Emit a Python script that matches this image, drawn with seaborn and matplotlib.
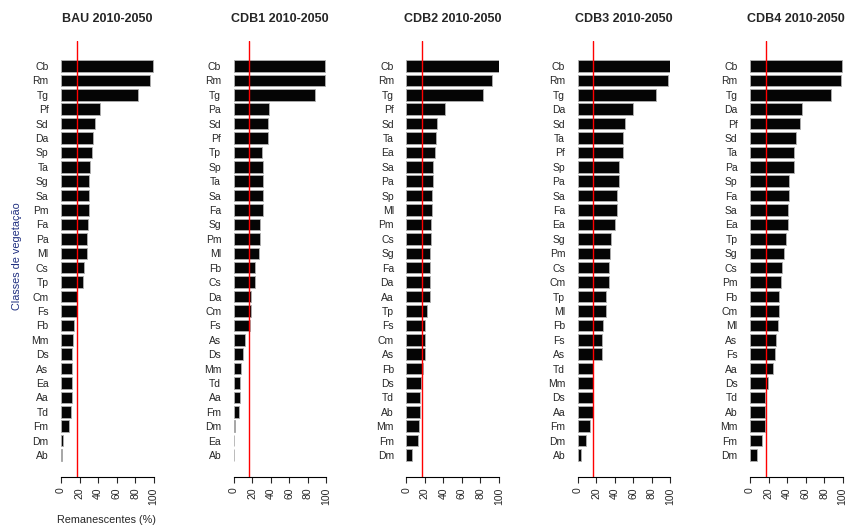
import pandas as pd
import matplotlib
matplotlib.use("Agg")
import matplotlib.pyplot as plt
import seaborn as sns

# dados (% remanescente por classe de vegetacao)
titles = ["BAU 2010-2050", "CDB1 2010-2050", "CDB2 2010-2050", "CDB3 2010-2050", "CDB4 2010-2050"]

bau_classes = ["Cb", "Rm", "Tg", "Pf", "Sd", "Da", "Sp", "Ta", "Sg", "Sa", "Pm", "Fa", "Pa", "Ml",
               "Cs", "Tp", "Cm", "Fs", "Fb", "Mm", "Ds", "As", "Ea", "Aa", "Td", "Fm", "Dm", "Ab"]
bau_values = [99.6, 96.4, 83.5, 42.0, 36.7, 34.5, 33.5, 31.3, 30.2, 30.2, 30.2, 29.1, 28.0, 28.0,
              24.8, 23.7, 17.3, 17.3, 14.0, 13.0, 11.9, 11.9, 11.9, 11.9, 10.8, 8.6, 2.2, 0.7]

cdb1_classes = ["Cb", "Rm", "Tg", "Pa", "Sd", "Pf", "Tp", "Sp", "Ta", "Sa", "Fa", "Sg", "Pm", "Ml",
                "Fb", "Cs", "Da", "Cm", "Fs", "As", "Ds", "Mm", "Td", "Aa", "Fm", "Dm", "Ea", "Ab"]
cdb1_values = [98.9, 98.2, 87.4, 37.8, 36.7, 36.7, 30.9, 31.3, 31.3, 31.3, 31.3, 28.0, 28.0, 27.0,
               23.4, 23.4, 19.0, 19.0, 17.6, 11.9, 10.4, 8.3, 7.2, 7.2, 5.4, 1.8, 0.7, 0.4]

cdb2_classes = ["Cb", "Rm", "Tg", "Pf", "Sd", "Ta", "Ea", "Sa", "Pa", "Sp", "Ml", "Pm", "Cs", "Sg",
                "Fa", "Da", "Aa", "Tp", "Fs", "Cm", "As", "Fb", "Ds", "Td", "Ab", "Mm", "Fm", "Dm"]
cdb2_values = [99.6, 92.0, 82.3, 41.9, 33.2, 32.5, 31.0, 28.9, 28.9, 27.8, 27.8, 26.7, 26.7, 25.6,
               25.6, 25.6, 25.6, 22.4, 20.2, 20.2, 20.2, 17.7, 16.2, 15.2, 15.2, 13.7, 12.6, 6.1]

cdb3_classes = ["Cb", "Rm", "Tg", "Da", "Sd", "Ta", "Pf", "Sp", "Pa", "Sa", "Fa", "Ea", "Sg", "Pm",
                "Cs", "Cm", "Tp", "Ml", "Fb", "Fs", "As", "Td", "Mm", "Ds", "Aa", "Fm", "Dm", "Ab"]
cdb3_values = [99.6, 97.5, 84.5, 59.6, 50.9, 48.7, 48.7, 44.4, 44.4, 42.2, 42.2, 40.0, 35.7, 34.7,
               33.6, 33.6, 30.3, 30.3, 27.0, 26.0, 26.0, 16.2, 16.2, 16.2, 16.2, 13.0, 8.7, 3.2]

cdb4_classes = ["Cb", "Rm", "Tg", "Da", "Pf", "Sd", "Ta", "Pa", "Sp", "Fa", "Sa", "Ea", "Tp", "Sg",
                "Cs", "Pm", "Fb", "Cm", "Ml", "As", "Fs", "Aa", "Ds", "Td", "Ab", "Mm", "Fm", "Dm"]
cdb4_values = [99.6, 98.2, 87.4, 56.0, 53.8, 49.5, 47.3, 47.3, 41.9, 41.9, 40.8, 40.8, 38.6, 36.5,
               34.3, 33.2, 31.0, 31.0, 30.0, 27.8, 26.7, 24.5, 19.1, 16.6, 16.6, 16.6, 12.6, 7.2]

meta = 17  # linha vermelha (meta de 17%)
x_ticks = [0, 20, 40, 60, 80, 100]

scenarios = [
    (bau_classes, bau_values),
    (cdb1_classes, cdb1_values),
    (cdb2_classes, cdb2_values),
    (cdb3_classes, cdb3_values),
    (cdb4_classes, cdb4_values),
]

sns.set_style("white")
plt.rcParams["font.family"] = ["Liberation Sans", "DejaVu Sans"]

W, H = 849, 528
fig = plt.figure(figsize=(W / 100, H / 100), dpi=100)

# posicoes (pixels) do zero de cada painel
x0s = [61, 233.7, 406.3, 577.7, 750]
panel_w = 92.7
top_px, bottom_px = 41, 477

for k, (classes, values) in enumerate(scenarios):
    ax = fig.add_axes([x0s[k] / W, 1 - bottom_px / H, panel_w / W, (bottom_px - top_px) / H])
    df = pd.DataFrame({"classe": classes, "valor": values})
    sns.barplot(data=df, x="valor", y="classe", orient="h", color="#050505",
                edgecolor="#b0b0b0", linewidth=0.6, width=0.8, saturation=1, ax=ax)
    ax.axvline(meta, color="red", lw=1)
    ax.set_xlim(0, 100)
    ax.set_ylim(28.527, -1.735)
    for s in ["top", "right", "left"]:
        ax.spines[s].set_visible(False)
    ax.spines["bottom"].set_linewidth(0.8)
    ax.spines["bottom"].set_color("black")
    ax.set_xticks(x_ticks)
    ax.set_xticklabels([str(t) for t in x_ticks], rotation=90, fontsize=7.5)
    ax.tick_params(axis="x", direction="out", length=4.3, width=0.8, pad=3, bottom=True)
    ax.tick_params(axis="y", length=0, pad=9, labelsize=7.5)
    ax.set_xlabel("")
    ax.set_ylabel("")
    ax.set_title(titles[k], fontsize=9, fontweight="bold", pad=13.5)

fig.text(106 / W, 1 - 520 / H, "Remanescentes (%)", fontsize=7.8, ha="center", va="center")
fig.text(17 / W, 1 - 256 / H, "Classes de vegetação", fontsize=7.8, ha="center", va="center",
         rotation=90, color="#1f2f80")

fig.savefig("out.png", dpi=100)
